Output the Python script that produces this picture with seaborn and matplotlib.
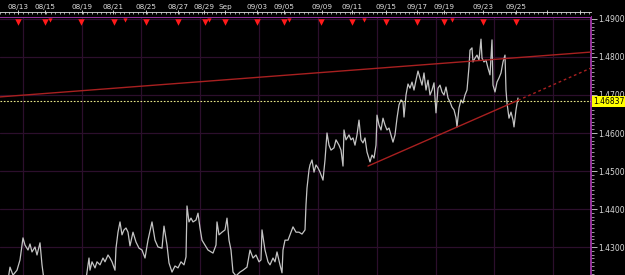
import matplotlib
matplotlib.use("Agg")
import matplotlib.pyplot as plt
import matplotlib.transforms as mtransforms
from matplotlib.ticker import MultipleLocator, FixedLocator, FixedFormatter
import numpy as np
import pandas as pd
import seaborn as sns

# ---- data ----
t = [8, 10, 13, 17, 20, 23, 25, 28, 30, 32, 35, 37, 40, 42, 44, 50, 60, 70, 80, 86,
     89, 90, 92, 95, 97, 100, 103, 105, 108, 110, 112, 115, 116, 118, 120, 122, 124,
     126, 128, 130, 133, 136, 139, 142, 145, 148, 152, 155, 158, 162, 164, 167, 169,
     172, 175, 178, 181, 184, 186, 187, 189, 191, 193, 196, 198, 200, 202, 205, 208,
     211, 213, 216, 217, 219, 222, 225, 227, 229, 231, 233, 236, 240, 243, 247, 250,
     253, 256, 259, 261, 262, 265, 268, 270, 273, 275, 277, 280, 282, 283, 285, 288,
     290, 293, 296, 299, 302, 305, 306, 307, 309, 310, 312, 314, 316, 318, 320, 323,
     325, 327, 329, 331, 334, 336, 339, 341, 343, 344, 346, 349, 351, 353, 355, 357,
     359, 361, 363, 365, 367, 370, 372, 374, 376, 377, 379, 381, 383, 385, 387, 389,
     391, 393, 395, 397, 399, 401, 403, 404, 406, 408, 410, 412, 414, 416, 418, 420,
     422, 424, 426, 428, 430, 432, 434, 436, 438, 440, 442, 444, 446, 448, 450, 452,
     454, 456, 457, 459, 461, 463, 465, 467, 469, 470, 472, 473, 475, 477, 479, 481,
     482, 484, 486, 488, 490, 492, 493, 495, 497, 499, 501, 503, 505, 506, 507, 509,
     511, 513, 514, 516, 518]
price = [1.4213, 1.4247, 1.4226, 1.4239, 1.4266, 1.4324, 1.4305, 1.4292, 1.4308, 1.4287,
         1.4300, 1.4279, 1.4311, 1.4253, 1.4213, 1.4180, 1.4150, 1.4170, 1.4190, 1.4215,
         1.4271, 1.4239, 1.4261, 1.4245, 1.4261, 1.4253, 1.4271, 1.4261, 1.4279, 1.4271,
         1.4261, 1.4239, 1.4297, 1.4339, 1.4366, 1.4332, 1.4345, 1.4350, 1.4339, 1.4303,
         1.4339, 1.4313, 1.4297, 1.4292, 1.4271, 1.4318, 1.4366, 1.4318, 1.4300, 1.4297,
         1.4355, 1.4305, 1.4258, 1.4234, 1.4250, 1.4245, 1.4261, 1.4253, 1.4274, 1.4408,
         1.4366, 1.4376, 1.4366, 1.4371, 1.4389, 1.4350, 1.4318, 1.4305, 1.4292, 1.4287,
         1.4284, 1.4305, 1.4366, 1.4332, 1.4339, 1.4345, 1.4376, 1.4318, 1.4292, 1.4234,
         1.4224, 1.4234, 1.4239, 1.4247, 1.4292, 1.4271, 1.4279, 1.4261, 1.4266, 1.4345,
         1.4292, 1.4261, 1.4253, 1.4271, 1.4261, 1.4287, 1.4253, 1.4232, 1.4292, 1.4318,
         1.4318, 1.4332, 1.4353, 1.4339, 1.4339, 1.4334, 1.4345, 1.4411, 1.4455, 1.4503,
         1.4516, 1.4529, 1.4497, 1.4516, 1.4508, 1.4497, 1.4476, 1.4529, 1.4600, 1.4568,
         1.4555, 1.4561, 1.4582, 1.4568, 1.4555, 1.4513, 1.4608, 1.4582, 1.4595, 1.4582,
         1.4587, 1.4568, 1.4595, 1.4634, 1.4582, 1.4574, 1.4587, 1.4550, 1.4524, 1.4542,
         1.4534, 1.4568, 1.4647, 1.4621, 1.4608, 1.4639, 1.4621, 1.4608, 1.4613, 1.4595,
         1.4576, 1.4595, 1.4639, 1.4674, 1.4687, 1.4682, 1.4642, 1.4700, 1.4729, 1.4718,
         1.4734, 1.4713, 1.4739, 1.4763, 1.4745, 1.4726, 1.4758, 1.4713, 1.4739, 1.4700,
         1.4713, 1.4732, 1.4653, 1.4718, 1.4726, 1.4708, 1.4700, 1.4721, 1.4692, 1.4682,
         1.4668, 1.4661, 1.4640, 1.4616, 1.4666, 1.4687, 1.4679, 1.4700, 1.4713, 1.4774,
         1.4818, 1.4824, 1.4787, 1.4797, 1.4805, 1.4792, 1.4847, 1.4797, 1.4787, 1.4792,
         1.4771, 1.4753, 1.4845, 1.4726, 1.4708, 1.4734, 1.4745, 1.4758, 1.4787, 1.4805,
         1.4713, 1.4679, 1.4639, 1.4655, 1.4634, 1.4616, 1.4661, 1.4692]

date_pos = [18, 45, 82, 113, 146, 178, 204, 225, 257, 284, 322, 352, 386, 417, 444, 483, 516]
date_labels = ["08/13", "08/15", "08/19", "08/21", "08/25", "08/27", "08/29", "Sep",
               "09/03", "09/05", "09/09", "09/11", "09/15", "09/17", "09/19", "09/23", "09/25"]
extra_major = [547, 580]
event_major = [18, 45, 81, 114, 146, 178, 205, 225, 257, 284, 321, 352, 386, 417, 444, 483, 516]
event_minor = [50, 125, 209, 289, 364, 452]
grid_x = [23, 82, 141, 200, 259, 318, 377, 436, 494, 553]
y_ticks = [1.43, 1.44, 1.45, 1.46, 1.47, 1.48, 1.49]
y_labels = ["1.4300", "1.4400", "1.4500", "1.4600", "1.4700", "1.4800", "1.4900"]
last_price = 1.46837
last_label = "1.46837"
trend1_t = [0, 591]
trend1_p = [1.4695, 1.4813]
trend2_t = [368, 518]
trend2_p = [1.4513, 1.4686]
trend2_ext_t = [518, 591]
trend2_ext_p = [1.4686, 1.4771]

# ---- figure ----
sns.set_theme(style="dark")
plt.rcParams["font.family"] = ["DejaVu Sans"]
W, H = 625, 275
fig = plt.figure(figsize=(W / 100, H / 100), dpi=100, facecolor="black")

ax = fig.add_axes([0, 0, 591 / W, 258 / H])
ax.set_facecolor("black")
ax.set_xlim(0, 591)
ax.set_ylim(1.422632, 1.490526)

grid_c = "#2c0f2c"
for g in grid_x:
    ax.axvline(g, color=grid_c, lw=0.9, zorder=0)
for yv in y_ticks:
    ax.axhline(yv, color=grid_c, lw=0.9, zorder=0)

df = pd.DataFrame({"t": t, "price": price})
sns.lineplot(data=df, x="t", y="price", ax=ax, color="#c4c4c4", lw=0.9,
             sort=False, estimator=None, zorder=3)

ax.axhline(last_price, color="#e6e68a", lw=0.8, ls=(0, (1.5, 1.5)), zorder=4)
ax.plot(trend1_t, trend1_p, color="#a82020", lw=1.0, zorder=5)
ax.plot(trend2_t, trend2_p, color="#a82020", lw=1.0, zorder=5)
ax.plot(trend2_ext_t, trend2_ext_p, color="#a82020", lw=1.0, ls=(0, (2, 2)), zorder=5)

# event markers along the top border
trans_top = mtransforms.blended_transform_factory(ax.transData, ax.transAxes)
ax.scatter(event_major, [0.982] * len(event_major), marker="v", s=22, color="#ff1a1a",
           transform=trans_top, zorder=6, clip_on=False, linewidths=0)
ax.scatter(event_minor, [0.987] * len(event_minor), marker="v", s=9, color="#ff1a1a",
           transform=trans_top, zorder=6, clip_on=False, linewidths=0)

for side in ["left", "bottom"]:
    ax.spines[side].set_visible(False)
for side in ["top", "right"]:
    ax.spines[side].set_visible(True)
    ax.spines[side].set_color("#a032a8")
    ax.spines[side].set_linewidth(1.3)

ax.set_xlabel("")
ax.set_ylabel("")
ax.set_xticks([])
ax.yaxis.tick_right()
ax.set_yticks(y_ticks)
ax.set_yticklabels(y_labels)
ax.yaxis.set_minor_locator(MultipleLocator(0.001))
ax.tick_params(axis="y", which="major", colors="#d8d8d8", labelsize=5.5, length=4,
               width=0.6, pad=1.5, direction="out", right=True, left=False)
ax.tick_params(axis="y", which="minor", colors="#d8d8d8", length=2, width=0.5,
               direction="out", right=True, left=False)
ax.grid(False)

trans_lbl = mtransforms.blended_transform_factory(ax.transAxes, ax.transData)
ax.text(1.004, last_price, last_label, transform=trans_lbl, ha="left", va="center",
        fontsize=5.5, color="black", zorder=10, clip_on=False,
        bbox=dict(boxstyle="square,pad=0.12", fc="#ffff00", ec="none"))

# ruler with date labels
rx = fig.add_axes([0, 258 / H, 591 / W, 5 / H])
rx.set_facecolor("black")
rx.set_xlim(0, 591)
rx.set_ylim(0, 1)
rx.set_yticks([])
for side in ["left", "bottom", "right"]:
    rx.spines[side].set_visible(False)
rx.spines["top"].set_color("#e0e0e0")
rx.spines["top"].set_linewidth(0.6)
rx.xaxis.tick_top()
rx.xaxis.set_major_locator(FixedLocator(date_pos + extra_major))
rx.xaxis.set_major_formatter(FixedFormatter(date_labels + [""] * len(extra_major)))
rx.xaxis.set_minor_locator(MultipleLocator(4.6))
rx.tick_params(axis="x", which="major", colors="#e0e0e0", labelsize=5.2, length=3,
               width=0.6, direction="inout", pad=0.3, top=True, bottom=False)
rx.tick_params(axis="x", which="minor", colors="#e0e0e0", length=1.6, width=0.5,
               direction="in", top=True, bottom=False)
rx.grid(False)

fig.savefig("out.png", dpi=100, facecolor="black")
